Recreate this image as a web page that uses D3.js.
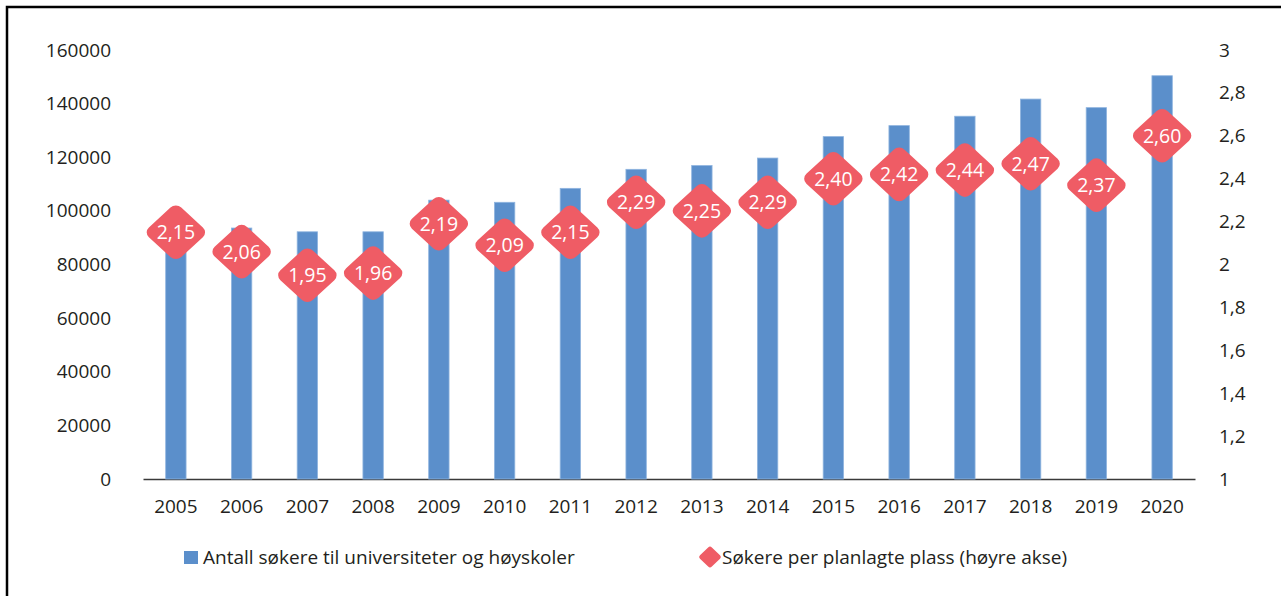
<!DOCTYPE html>
<html>
<head>
<meta charset="utf-8">
<script src="https://cdn.jsdelivr.net/npm/d3@7"></script>
<style>
  body { margin: 0; background: #fff; }
  text { font-family: "Open Sans", sans-serif; }
</style>
</head>
<body>
<svg id="chart" width="1281" height="596"></svg>
<script>
var years = ["2005", "2006", "2007", "2008", "2009", "2010", "2011", "2012",
             "2013", "2014", "2015", "2016", "2017", "2018", "2019", "2020"];
var applicants = [90000, 93600, 92200, 92200, 104000, 103200, 108400, 115500,
                  116900, 119700, 127700, 131800, 135300, 141700, 138500, 150400];
var perPlace = [2.15, 2.06, 1.95, 1.96, 2.19, 2.09, 2.15, 2.29,
                2.25, 2.29, 2.40, 2.42, 2.44, 2.47, 2.37, 2.60];
var leftTicks = [0, 20000, 40000, 60000, 80000, 100000, 120000, 140000, 160000];
var rightTicks = [1, 1.2, 1.4, 1.6, 1.8, 2, 2.2, 2.4, 2.6, 2.8, 3];
var barLabel = "Antall søkere til universiteter og høyskoler";
var dotLabel = "Søkere per planlagte plass (høyre akse)";

var BAR_COLOR = "#5b8fcb";
var DOT_COLOR = "#ef5c65";
var TEXT_COLOR = "#231f20";

var svg = d3.select("#chart");

// frame (left and top edges only, like the source)
svg.append("path")
    .attr("d", "M7,596 V7 H1281")
    .style("fill", "none")
    .style("stroke", "#000")
    .style("stroke-width", 2.5);

var x = d3.scaleBand()
    .domain(years)
    .range([143, 1195])
    .paddingInner(0.69)
    .paddingOuter(0.345);

var y = d3.scaleLinear().domain([0, 160000]).range([479, 50]);
var y2 = d3.scaleLinear().domain([1, 3]).range([479, 50]);

var comma = function (v) { return String(v).replace(".", ","); };

// left axis
var leftAxis = svg.append("g")
    .attr("transform", "translate(111,0)")
    .call(d3.axisLeft(y).tickValues(leftTicks).tickSize(0).tickPadding(0).tickFormat(d3.format("d")));
leftAxis.select(".domain").remove();

// right axis
var rightAxis = svg.append("g")
    .attr("transform", "translate(1219,0)")
    .call(d3.axisRight(y2).tickValues(rightTicks).tickSize(0).tickPadding(0).tickFormat(comma));
rightAxis.select(".domain").remove();

// bottom axis
var bottomAxis = svg.append("g")
    .attr("transform", "translate(0,479)")
    .call(d3.axisBottom(x).tickSize(0).tickPadding(21));
bottomAxis.select(".domain")
    .style("stroke", "#3a3a3a")
    .style("stroke-width", 1.5);

svg.selectAll(".tick text")
    .style("font-size", "19px")
    .style("fill", TEXT_COLOR);

// bars
svg.append("g").selectAll("rect")
    .data(years)
    .enter()
    .append("rect")
    .attr("x", function (d) { return x(d); })
    .attr("width", x.bandwidth())
    .attr("y", function (d, i) { return y(applicants[i]); })
    .attr("height", function (d, i) { return y(0) - y(applicants[i]); })
    .style("fill", BAR_COLOR)
    .style("stroke", "#8fb4df")
    .style("stroke-width", 0.8);

// rounded diamond marker
function diamond(g, side, r, sx) {
    g.append("rect")
        .attr("x", -side / 2)
        .attr("y", -side / 2)
        .attr("width", side)
        .attr("height", side)
        .attr("rx", r)
        .attr("transform", "scale(" + sx + ",1) rotate(45)")
        .style("fill", DOT_COLOR);
}

var dots = svg.append("g").selectAll("g")
    .data(years)
    .enter()
    .append("g")
    .attr("transform", function (d, i) {
        return "translate(" + (x(d) + x.bandwidth() / 2) + "," + y2(perPlace[i]) + ")";
    });
dots.each(function () { diamond(d3.select(this), 42, 7, 1.09); });
dots.append("text")
    .attr("text-anchor", "middle")
    .attr("dy", "0.36em")
    .style("font-size", "19.5px")
    .style("fill", "#fff")
    .text(function (d, i) { return perPlace[i].toFixed(2).replace(".", ","); });

// legend
var legend = svg.append("g");
legend.append("rect")
    .attr("x", 184).attr("y", 551)
    .attr("width", 14).attr("height", 13)
    .style("fill", BAR_COLOR);
legend.append("text")
    .attr("x", 203).attr("y", 557)
    .attr("dy", "0.36em")
    .style("font-size", "19px")
    .style("fill", TEXT_COLOR)
    .text(barLabel);

var legDot = legend.append("g").attr("transform", "translate(710,557)");
diamond(legDot, 16, 2.5, 1.05);
legend.append("text")
    .attr("x", 722).attr("y", 557)
    .attr("dy", "0.36em")
    .style("font-size", "19px")
    .style("fill", TEXT_COLOR)
    .text(dotLabel);
</script>
</body>
</html>
